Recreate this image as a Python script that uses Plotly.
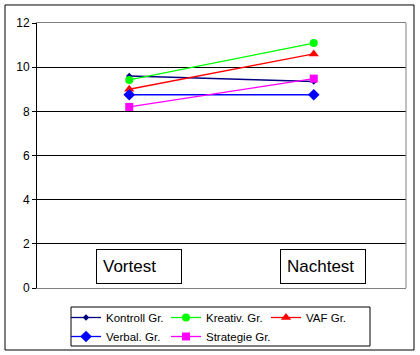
import plotly.graph_objects as go

categories = ["Vortest", "Nachtest"]
series_names = ["Kontroll Gr.", "Kreativ. Gr.", "VAF Gr.", "Verbal. Gr.", "Strategie Gr."]
kontroll = [9.6, 9.35]
kreativ = [9.42, 11.09]
vaf = [9.0, 10.6]
verbal = [8.75, 8.75]
strategie = [8.2, 9.48]
y_ticks = [0, 2, 4, 6, 8, 10, 12]

values = [kontroll, kreativ, vaf, verbal, strategie]
colors = ["#000080", "#00FF00", "#FF0000", "#0000FF", "#FF00FF"]
symbols = ["diamond", "circle", "triangle-up", "diamond", "square"]
sizes = [5, 8, 9, 9, 8]

fig = go.Figure()
for name, vals, c, s, sz in zip(series_names, values, colors, symbols, sizes):
    fig.add_trace(go.Scatter(
        x=categories, y=vals, name=name, mode="lines+markers",
        line=dict(color=c, width=1.3),
        marker=dict(color=c, symbol=s, size=sz, line=dict(width=0)),
    ))

font_family = "Liberation Sans, Arial, sans-serif"

fig.update_layout(
    width=420, height=355,
    margin=dict(l=37, r=14, t=23, b=67, autoexpand=False),
    paper_bgcolor="white", plot_bgcolor="white",
    font=dict(family=font_family, color="black", size=12),
    xaxis=dict(
        type="category", categoryorder="array", categoryarray=categories,
        range=[-0.5, 1.5], showticklabels=False, ticks="",
        showgrid=False, zeroline=False,
        showline=True, linecolor="#808080", linewidth=1, mirror=True,
    ),
    yaxis=dict(
        range=[0, 12], tickvals=y_ticks, ticktext=[str(t) for t in y_ticks],
        showgrid=True, gridcolor="black", gridwidth=1,
        zeroline=False, showline=True, linecolor="black", linewidth=1,
        ticks="outside", ticklen=4, tickcolor="black",
        tickfont=dict(size=12, color="black"),
    ),
    showlegend=True,
    legend=dict(
        orientation="h", x=(66 - 37) / 369, xanchor="left", y=-0.0566, yanchor="top",
        borderwidth=0, bgcolor="rgba(0,0,0,0)",
        font=dict(size=11.5, color="black"),
        entrywidth=55, itemwidth=30, tracegroupgap=0,
    ),
    shapes=[
        dict(type="line", xref="paper", yref="paper", x0=1, x1=1, y0=0, y1=1,
             line=dict(color="#808080", width=1), layer="above"),
        dict(type="rect", xref="paper", yref="paper",
             x0=-0.0867, x1=1.0217, y0=-0.234, y1=1.068,
             line=dict(color="black", width=1), layer="below"),
        dict(type="rect", xref="paper", yref="paper",
             x0=(71 - 37) / 369, x1=(370 - 37) / 369,
             y0=(288 - 346) / 265, y1=(288 - 307) / 265,
             line=dict(color="black", width=1), layer="below"),
    ],
)

for cat, xs in zip(categories, [10, 9]):
    fig.add_annotation(
        x=cat, xref="x", y=(288 - 266.5) / 265, yref="paper", yanchor="middle",
        text=cat, showarrow=False,
        xshift=xs, width=72, height=21, align="left", borderpad=6,
        bordercolor="black", borderwidth=1, bgcolor="white",
        font=dict(size=17, color="black"),
    )

fig.write_html("out.html")
